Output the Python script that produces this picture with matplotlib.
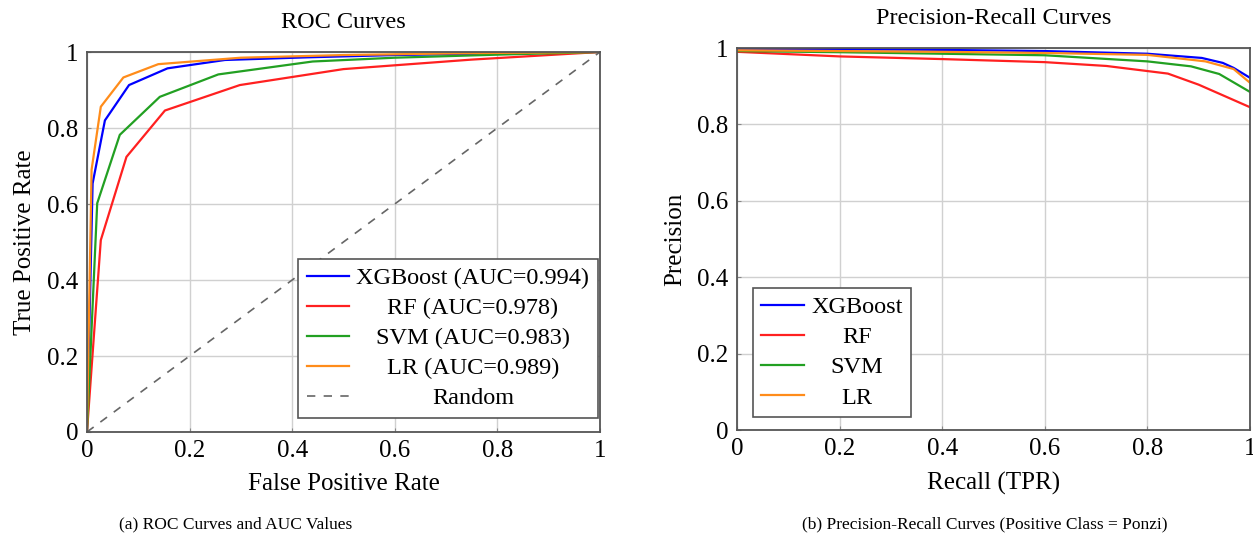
import numpy as np
import matplotlib
matplotlib.use('Agg')
from matplotlib import pyplot as plt

plt.rcParams['font.family'] = ['Liberation Serif', 'DejaVu Serif']

# ROC curves (FPR, TPR)
xgb_fpr = [0, 0.011, 0.035, 0.082, 0.157, 0.269, 0.43, 0.6, 0.8, 1.0]
xgb_tpr = [0, 0.654, 0.82, 0.913, 0.957, 0.979, 0.986, 0.992, 0.996, 1.0]
rf_fpr = [0, 0.027, 0.077, 0.152, 0.298, 0.5, 0.75, 1.0]
rf_tpr = [0, 0.505, 0.724, 0.846, 0.913, 0.955, 0.98, 1.0]
svm_fpr = [0, 0.02, 0.064, 0.142, 0.256, 0.44, 0.6, 0.8, 1.0]
svm_tpr = [0, 0.602, 0.782, 0.882, 0.941, 0.975, 0.985, 0.993, 1.0]
lr_fpr = [0, 0.009, 0.027, 0.071, 0.139, 0.3, 0.5, 0.75, 1.0]
lr_tpr = [0, 0.69, 0.856, 0.933, 0.968, 0.985, 0.992, 0.997, 1.0]
auc = {'XGBoost': 0.994, 'RF': 0.978, 'SVM': 0.983, 'LR': 0.989}

# Precision-Recall curves
xgb_rec = [0, 0.2, 0.4, 0.6, 0.8, 0.906, 0.947, 0.968, 1.0]
xgb_prec = [0.998, 0.997, 0.995, 0.992, 0.985, 0.974, 0.961, 0.948, 0.922]
rf_rec = [0, 0.2, 0.4, 0.6, 0.72, 0.84, 0.9, 1.0]
rf_prec = [0.99, 0.978, 0.971, 0.963, 0.953, 0.933, 0.904, 0.845]
svm_rec = [0, 0.2, 0.4, 0.6, 0.8, 0.885, 0.94, 1.0]
svm_prec = [0.992, 0.989, 0.985, 0.981, 0.965, 0.952, 0.932, 0.885]
lr_rec = [0, 0.2, 0.4, 0.6, 0.8, 0.913, 0.968, 1.0]
lr_prec = [0.994, 0.992, 0.99, 0.987, 0.982, 0.965, 0.945, 0.909]

tick_vals = [0, 0.2, 0.4, 0.6, 0.8, 1]
tick_labels = ['0', '0.2', '0.4', '0.6', '0.8', '1']

colors = {'XGBoost': '#0000ff', 'RF': '#ff2020', 'SVM': '#22a022', 'LR': '#ff8c1a'}


def style_axes(ax):
    ax.set_xlim(0, 1)
    ax.set_ylim(0, 1)
    ax.set_xticks(tick_vals)
    ax.set_yticks(tick_vals)
    ax.set_xticklabels(tick_labels)
    ax.set_yticklabels(tick_labels)
    ax.tick_params(labelsize=18, direction='in', length=3, color='#888888', pad=6)
    ax.grid(True, color='#d0d0d0', linewidth=1.0)
    ax.set_axisbelow(True)
    for s in ax.spines.values():
        s.set_color('#555555')
        s.set_linewidth(1.3)


def center_legend_texts(fig, leg):
    fig.canvas.draw()
    r = fig.canvas.get_renderer()
    texts = leg.get_texts()
    widths = [t.get_window_extent(r).width for t in texts]
    wmax = max(widths)
    for t, w in zip(texts, widths):
        t.set_x((wmax - w) / 2)


fig = plt.figure(figsize=(12.53, 5.4), dpi=100)
ax1 = fig.add_axes([0.0694, 0.2, 0.4094, 0.7037])
ax2 = fig.add_axes([0.5882, 0.2037, 0.4094, 0.7074])

leg_kw = dict(fontsize=17.5, frameon=True, fancybox=False, edgecolor='#555555',
              framealpha=1, handlelength=1.75, labelspacing=0.33,
              borderaxespad=0, handletextpad=0.3, borderpad=0.35)

# ROC
ax1.plot(xgb_fpr, xgb_tpr, color=colors['XGBoost'], lw=1.6, label='XGBoost (AUC=%.3f)' % auc['XGBoost'])
ax1.plot(rf_fpr, rf_tpr, color=colors['RF'], lw=1.6, label='RF (AUC=%.3f)' % auc['RF'])
ax1.plot(svm_fpr, svm_tpr, color=colors['SVM'], lw=1.6, label='SVM (AUC=%.3f)' % auc['SVM'])
ax1.plot(lr_fpr, lr_tpr, color=colors['LR'], lw=1.6, label='LR (AUC=%.3f)' % auc['LR'])
ax1.plot([0, 1], [0, 1], color='#666666', lw=1.2, ls=(0, (5, 5)), label='Random')
style_axes(ax1)
ax1.set_title('ROC Curves', fontsize=17.5, pad=17)
ax1.set_xlabel('False Positive Rate', fontsize=18, labelpad=8)
ax1.set_ylabel('True Positive Rate', fontsize=18, labelpad=8)
leg1 = ax1.legend(loc='lower right', bbox_to_anchor=(0.996, 0.037), **leg_kw)
leg1.get_frame().set_linewidth(1.2)

# Precision-Recall
ax2.plot(xgb_rec, xgb_prec, color=colors['XGBoost'], lw=1.6, label='XGBoost')
ax2.plot(rf_rec, rf_prec, color=colors['RF'], lw=1.6, label='RF')
ax2.plot(svm_rec, svm_prec, color=colors['SVM'], lw=1.6, label='SVM')
ax2.plot(lr_rec, lr_prec, color=colors['LR'], lw=1.6, label='LR')
style_axes(ax2)
ax2.set_title('Precision-Recall Curves', fontsize=17.5, pad=17)
ax2.set_xlabel('Recall (TPR)', fontsize=18, labelpad=8)
ax2.set_ylabel('Precision', fontsize=18, labelpad=8)
leg2 = ax2.legend(loc='lower left', bbox_to_anchor=(0.031, 0.034), **leg_kw)
leg2.get_frame().set_linewidth(1.2)

fig.text(0.188, 0.022, '(a) ROC Curves and AUC Values', fontsize=12.5, ha='center')
fig.text(0.786, 0.022, '(b) Precision-Recall Curves (Positive Class = Ponzi)', fontsize=12.5, ha='center')

center_legend_texts(fig, leg1)
center_legend_texts(fig, leg2)

fig.savefig('out.png', dpi=100)
